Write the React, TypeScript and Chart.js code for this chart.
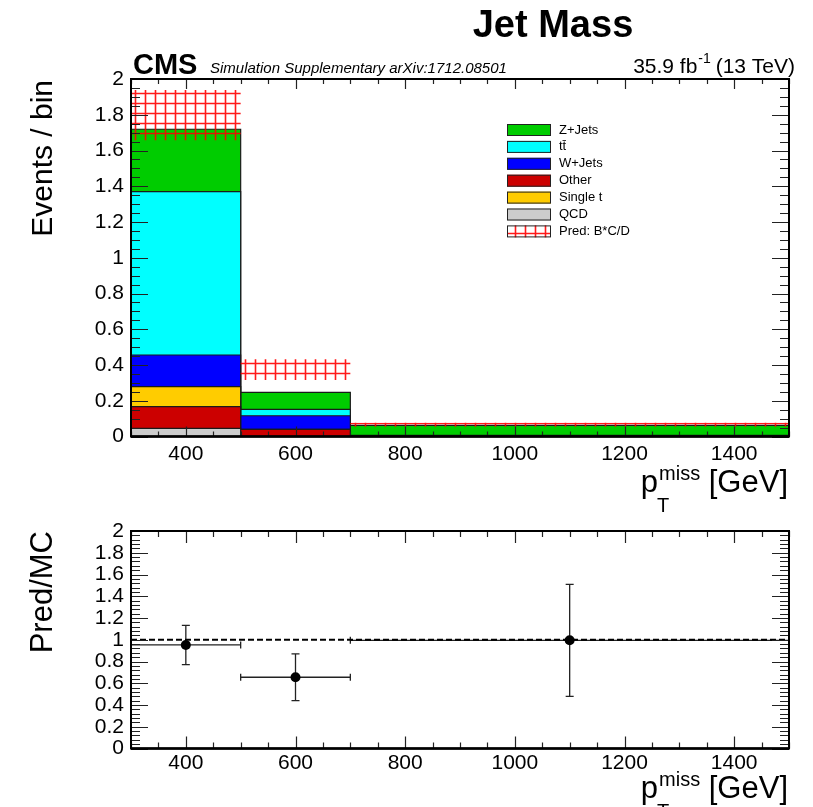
import { useEffect, useRef } from 'react';
import { Chart, registerables } from 'chart.js';

Chart.register(...registerables);

// ---------------- data ----------------
const binEdges = [300, 500, 700, 1500];
const binCenters = [400, 600, 1100];

const seriesLabels = ['QCD', 'Other', 'Single t', 'W+Jets', 't\u0074\u0304', 'Z+Jets'];
const seriesColors = ['#cccccc', '#cc0000', '#ffcc00', '#0000ff', '#00ffff', '#00cc00'];
const qcd = [0.046, 0.0, 0.0];
const other = [0.121, 0.04, 0.002];
const singleT = [0.112, 0.0, 0.0];
const wJets = [0.177, 0.076, 0.003];
const ttbar = [0.914, 0.036, 0.002];
const zJets = [0.349, 0.095, 0.055];

const predLabel = 'Pred: B*C/D';
const predValues = [1.798, 0.374, 0.066];
const predErrors = [0.14, 0.058, 0.011];

const ratioValues = [0.952, 0.655, 0.995];
const ratioErrors = [0.181, 0.215, 0.515];
const ratioReference = [1, 1];

const legendOrder = ['Z+Jets', 't\u0074\u0304', 'W+Jets', 'Other', 'Single t', 'QCD', predLabel];

const xTickValues = [400, 600, 800, 1000, 1200, 1400];
const xTickLabels = ['400', '600', '800', '1000', '1200', '1400'];
const yTickValues = [0, 0.2, 0.4, 0.6, 0.8, 1, 1.2, 1.4, 1.6, 1.8, 2];
const yTickLabels = ['0', '0.2', '0.4', '0.6', '0.8', '1', '1.2', '1.4', '1.6', '1.8', '2'];

const FONT = '"Liberation Sans", Arial, Helvetica, sans-serif';

// ---------------- helpers ----------------
function stepPoints(values: number[]) {
  return binEdges.map((e, i) => ({ x: e, y: values[Math.min(i, values.length - 1)] }));
}

function makeHatch(): CanvasPattern | string {
  const c = document.createElement('canvas');
  c.width = 10;
  c.height = 10;
  const g = c.getContext('2d');
  if (!g) return 'rgba(255,0,0,0.3)';
  g.strokeStyle = 'rgba(255,0,0,0.9)';
  g.lineWidth = 1.6;
  g.beginPath();
  g.moveTo(5.5, 0);
  g.lineTo(5.5, 10);
  g.moveTo(0, 3.5);
  g.lineTo(10, 3.5);
  g.stroke();
  const p = g.createPattern(c, 'repeat');
  return p || 'rgba(255,0,0,0.3)';
}

function drawPtMiss(ctx: CanvasRenderingContext2D, right: number, baseline: number) {
  const big = `31px ${FONT}`;
  const small = `20px ${FONT}`;
  ctx.font = big;
  const wp = ctx.measureText('p').width;
  const wG = ctx.measureText(' [GeV]').width;
  ctx.font = small;
  const wm = ctx.measureText('miss').width;
  const x0 = right - wG - wm - wp - 1;
  ctx.fillStyle = '#000';
  ctx.textAlign = 'left';
  ctx.textBaseline = 'alphabetic';
  ctx.font = big;
  ctx.fillText('p', x0, baseline);
  ctx.font = small;
  ctx.fillText('miss', x0 + wp + 1, baseline - 12);
  ctx.fillText('T', x0 + wp - 1, baseline + 20);
  ctx.font = big;
  ctx.fillText(' [GeV]', x0 + wp + 1 + wm, baseline);
}

function drawRotated(ctx: CanvasRenderingContext2D, text: string, x: number, yTop: number, size: number) {
  ctx.save();
  ctx.translate(x, yTop);
  ctx.rotate(-Math.PI / 2);
  ctx.font = `${size}px ${FONT}`;
  ctx.fillStyle = '#000';
  ctx.textAlign = 'right';
  ctx.textBaseline = 'alphabetic';
  ctx.fillText(text, 0, 0);
  ctx.restore();
}

const frameTicks = {
  id: 'frameTicks',
  afterDraw(chart: any, _args: any, opts: any) {
    const { ctx, chartArea: a } = chart;
    const x = chart.scales.x;
    const y = chart.scales.y;
    ctx.save();
    ctx.strokeStyle = '#222';
    ctx.lineWidth = 1.2;
    ctx.beginPath();
    for (let v = 300; v <= 1500 + 1e-6; v += 50) {
      const px = Math.round(x.getPixelForValue(v)) + 0.5;
      const major = v % 200 === 0;
      const len = major ? opts.xMajor : opts.xMinor;
      ctx.moveTo(px, a.bottom);
      ctx.lineTo(px, a.bottom - len);
      ctx.moveTo(px, a.top);
      ctx.lineTo(px, a.top + len);
    }
    const n = Math.round(2 / opts.yStep);
    const per = Math.round(0.2 / opts.yStep);
    for (let i = 0; i <= n; i++) {
      const v = i * opts.yStep;
      const py = Math.round(y.getPixelForValue(v)) + 0.5;
      const len = i % per === 0 ? opts.yMajor : opts.yMinor;
      ctx.moveTo(a.left, py);
      ctx.lineTo(a.left + len, py);
      ctx.moveTo(a.right, py);
      ctx.lineTo(a.right - len, py);
    }
    ctx.stroke();
    ctx.strokeStyle = '#000';
    ctx.lineWidth = 2;
    ctx.strokeRect(a.left, a.top, a.right - a.left, a.bottom - a.top);
    ctx.lineWidth = 2.5;
    ctx.beginPath();
    ctx.moveTo(a.left, a.bottom);
    ctx.lineTo(a.right, a.bottom);
    ctx.stroke();
    ctx.restore();
  },
};

const topTexts = {
  id: 'topTexts',
  afterDraw(chart: any, _a: any, opts: any) {
    const ctx: CanvasRenderingContext2D = chart.ctx;
    ctx.save();
    ctx.fillStyle = '#000';
    ctx.textBaseline = 'alphabetic';
    // title
    ctx.font = `bold 38px ${FONT}`;
    ctx.textAlign = 'center';
    ctx.fillText('Jet Mass', 553, 37);
    // CMS label
    ctx.textAlign = 'left';
    ctx.font = `bold 29px ${FONT}`;
    ctx.fillText('CMS', 133, 74);
    ctx.font = `italic 15px ${FONT}`;
    ctx.fillText('Simulation Supplementary arXiv:1712.08501', 210, 73);
    // lumi
    const big = `21px ${FONT}`;
    const sup = `14px ${FONT}`;
    ctx.font = big;
    const t2 = ' (13 TeV)';
    const w2 = ctx.measureText(t2).width;
    const t1 = '35.9 fb';
    const w1 = ctx.measureText(t1).width;
    ctx.font = sup;
    const ws = ctx.measureText('-1').width;
    const x0 = 795 - w2 - ws - w1;
    ctx.font = big;
    ctx.fillText(t1, x0, 73);
    ctx.font = sup;
    ctx.fillText('-1', x0 + w1 + 1, 63);
    ctx.font = big;
    ctx.fillText(t2, x0 + w1 + ws, 73);
    // axis titles
    drawRotated(ctx, 'Events / bin', 52, 80, 30);
    drawPtMiss(ctx, 788, 492);
    // legend
    const items = opts.items as { label: string; color: any; hatch: boolean }[];
    items.forEach((it, i) => {
      const cy = 130 + i * 16.9;
      const bx = 507, bw = 44, bh = 12;
      ctx.fillStyle = '#ffffff';
      ctx.fillRect(bx, cy - bh / 2, bw, bh);
      ctx.fillStyle = it.color;
      ctx.fillRect(bx, cy - bh / 2, bw, bh);
      ctx.strokeStyle = '#222';
      ctx.lineWidth = 1;
      ctx.strokeRect(bx + 0.5, cy - bh / 2 + 0.5, bw - 1, bh - 1);
      ctx.fillStyle = '#000';
      ctx.font = `13px ${FONT}`;
      ctx.textAlign = 'left';
      ctx.textBaseline = 'middle';
      ctx.fillText(it.label, 559, cy);
    });
    ctx.restore();
  },
};

const bottomTexts = {
  id: 'bottomTexts',
  afterDraw(chart: any) {
    const ctx: CanvasRenderingContext2D = chart.ctx;
    ctx.save();
    drawRotated(ctx, 'Pred/MC', 52, 31, 31);
    drawPtMiss(ctx, 788, 298);
    ctx.restore();
  },
};

const errorBars = {
  id: 'errorBars',
  beforeDatasetsDraw(chart: any) {
    const { ctx } = chart;
    const x = chart.scales.x;
    const y = chart.scales.y;
    ctx.save();
    ctx.strokeStyle = '#222';
    ctx.lineWidth = 1.3;
    ctx.beginPath();
    binCenters.forEach((c, i) => {
      const px = x.getPixelForValue(c);
      const py = y.getPixelForValue(ratioValues[i]);
      const pHi = y.getPixelForValue(ratioValues[i] + ratioErrors[i]);
      const pLo = y.getPixelForValue(ratioValues[i] - ratioErrors[i]);
      const xl = x.getPixelForValue(binEdges[i]);
      const xr = x.getPixelForValue(binEdges[i + 1]);
      ctx.moveTo(px, pHi);
      ctx.lineTo(px, pLo);
      ctx.moveTo(px - 4, pHi);
      ctx.lineTo(px + 4, pHi);
      ctx.moveTo(px - 4, pLo);
      ctx.lineTo(px + 4, pLo);
      ctx.moveTo(xl, py);
      ctx.lineTo(xr, py);
      ctx.moveTo(xl, py - 3.5);
      ctx.lineTo(xl, py + 3.5);
      ctx.moveTo(xr, py - 3.5);
      ctx.lineTo(xr, py + 3.5);
    });
    ctx.stroke();
    ctx.restore();
  },
};

function axisOptions(xHeight: number, xPad: number) {
  const tickFont = { family: FONT, size: 21 };
  return {
    x: {
      type: 'linear' as const,
      min: 300,
      max: 1500,
      afterBuildTicks: (s: any) => {
        s.ticks = xTickValues.map((v) => ({ value: v }));
      },
      afterFit: (s: any) => {
        s.height = xHeight;
      },
      grid: { display: false, drawTicks: false },
      border: { display: false },
      ticks: {
        font: tickFont,
        color: '#000',
        padding: xPad,
        maxRotation: 0,
        autoSkip: false,
        callback: (_v: any, i: number) => xTickLabels[i],
      },
    },
    y: {
      type: 'linear' as const,
      min: 0,
      max: 2,
      afterBuildTicks: (s: any) => {
        s.ticks = yTickValues.map((v) => ({ value: v }));
      },
      afterFit: (s: any) => {
        s.width = 131;
      },
      grid: { display: false, drawTicks: false },
      border: { display: false },
      ticks: {
        font: tickFont,
        color: '#000',
        padding: 7,
        autoSkip: false,
        callback: (_v: any, i: number) => yTickLabels[i],
      },
    },
  };
}

export default function App() {
  const topRef = useRef<HTMLCanvasElement>(null);
  const botRef = useRef<HTMLCanvasElement>(null);

  useEffect(() => {
    const hatch = makeHatch();
    const comps = [qcd, other, singleT, wJets, ttbar, zJets];
    const cum: number[][] = [];
    comps.forEach((arr, k) => {
      cum.push(arr.map((v, i) => v + (k > 0 ? cum[k - 1][i] : 0)));
    });
    const stackSets = cum.map((vals, k) => ({
      type: 'line' as const,
      label: seriesLabels[k],
      data: stepPoints(vals),
      stepped: true,
      borderColor: '#1a1a1a',
      borderWidth: 1.2,
      backgroundColor: seriesColors[k],
      fill: k === 0 ? 'origin' : '-1',
      pointRadius: 0,
      order: 0,
    }));
    const predLow = predValues.map((v, i) => v - predErrors[i]);
    const predHigh = predValues.map((v, i) => v + predErrors[i]);
    const datasetsTop: any[] = [
      ...stackSets,
      {
        type: 'line',
        label: 'predLow',
        data: stepPoints(predLow),
        stepped: true,
        borderWidth: 0,
        borderColor: 'rgba(0,0,0,0)',
        fill: false,
        pointRadius: 0,
        order: -1,
      },
      {
        type: 'line',
        label: predLabel,
        data: stepPoints(predHigh),
        stepped: true,
        borderWidth: 0,
        borderColor: 'rgba(0,0,0,0)',
        backgroundColor: hatch,
        fill: '-1',
        pointRadius: 0,
        order: -2,
      },
    ];
    const legendItems = legendOrder.map((lab) => {
      if (lab === predLabel) return { label: lab, color: hatch, hatch: true };
      const k = seriesLabels.indexOf(lab);
      return { label: lab, color: seriesColors[k], hatch: false };
    });

    const top = new Chart(topRef.current as HTMLCanvasElement, {
      type: 'line',
      data: { datasets: datasetsTop },
      plugins: [frameTicks, topTexts],
      options: {
        responsive: false,
        animation: false,
        devicePixelRatio: 1,
        events: [],
        layout: { padding: { top: 79, right: 24, left: 0, bottom: 0 } },
        plugins: {
          legend: { display: false },
          tooltip: { enabled: false },
          frameTicks: { xMajor: 10, xMinor: 5, yStep: 0.05, yMajor: 17, yMinor: 9 },
          topTexts: { items: legendItems },
        } as any,
        scales: axisOptions(83.5, 5) as any,
      },
    });

    const bot = new Chart(botRef.current as HTMLCanvasElement, {
      type: 'scatter',
      data: {
        datasets: [
          {
            type: 'scatter',
            label: 'ratio',
            data: binCenters.map((c, i) => ({ x: c, y: ratioValues[i] })),
            pointRadius: 5,
            pointBackgroundColor: '#000',
            pointBorderWidth: 0,
            order: -1,
          },
          {
            type: 'line',
            label: 'unity',
            data: [
              { x: 300, y: ratioReference[0] },
              { x: 1500, y: ratioReference[1] },
            ],
            borderColor: '#000',
            borderWidth: 2,
            borderDash: [6, 3],
            pointRadius: 0,
            fill: false,
            order: 0,
          },
        ] as any,
      },
      plugins: [errorBars, frameTicks, bottomTexts],
      options: {
        responsive: false,
        animation: false,
        devicePixelRatio: 1,
        events: [],
        layout: { padding: { top: 31, right: 24, left: 0, bottom: 0 } },
        plugins: {
          legend: { display: false },
          tooltip: { enabled: false },
          frameTicks: { xMajor: 12, xMinor: 6, yStep: 0.04, yMajor: 17, yMinor: 9 },
        } as any,
        scales: axisOptions(58.5, 2) as any,
      },
    });

    return () => {
      top.destroy();
      bot.destroy();
    };
  }, []);

  return (
    <div style={{ position: 'absolute', left: 0, top: 0, width: 813, height: 807, background: '#fff', overflow: 'hidden' }}>
      <canvas ref={botRef} width={813} height={307} style={{ position: 'absolute', left: 0, top: 500, width: 813, height: 307 }} />
      <canvas ref={topRef} width={813} height={520} style={{ position: 'absolute', left: 0, top: 0, width: 813, height: 520 }} />
    </div>
  );
}
